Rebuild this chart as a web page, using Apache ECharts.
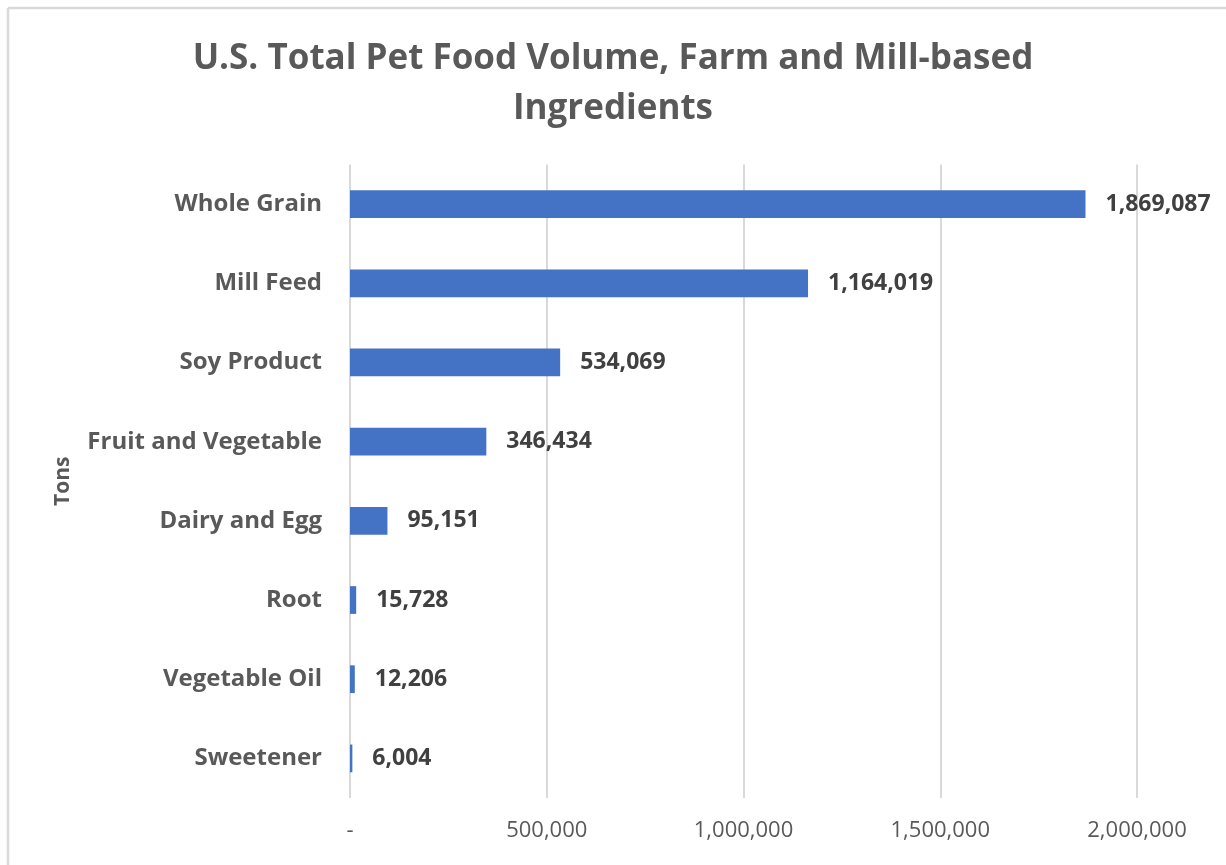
<!DOCTYPE html>
<html>
<head>
<meta charset="utf-8">
<script src="https://cdn.jsdelivr.net/npm/echarts@6/dist/echarts.min.js"></script>
<style>
  html, body { margin: 0; padding: 0; background: #fff; }
  #chart { width: 1226px; height: 865px; }
</style>
</head>
<body>
<div id="chart"></div>
<script>
// Ingredient categories, top to bottom
const categories = ['Whole Grain', 'Mill Feed', 'Soy Product', 'Fruit and Vegetable',
  'Dairy and Egg', 'Root', 'Vegetable Oil', 'Sweetener'];
// Volume in tons
const tons = [1869087, 1164019, 534069, 346434, 95151, 15728, 12206, 6004];
// Value axis ticks
const axisMin = 0;
const axisMax = 2000000;
const axisStep = 500000;

const fmt = v => v === 0 ? '-' : v.toLocaleString('en-US');
const font = '"Open Sans", "DejaVu Sans", sans-serif';

const chart = echarts.init(document.getElementById('chart'), null, { renderer: 'canvas' });
chart.setOption({
  backgroundColor: '#ffffff',
  animation: false,
  title: {
    text: 'U.S. Total Pet Food Volume, Farm and Mill-based\nIngredients',
    left: 'center',
    top: 29,
    textStyle: {
      fontFamily: font, fontSize: 35, fontWeight: 'bold', color: '#595959', lineHeight: 50
    }
  },
  graphic: [
    { type: 'line', shape: { x1: 8, y1: 8, x2: 1226, y2: 8 }, style: { stroke: '#d9d9d9', lineWidth: 2.5 } },
    { type: 'line', shape: { x1: 8, y1: 8, x2: 8, y2: 865 }, style: { stroke: '#d9d9d9', lineWidth: 2.5 } }
  ],
  grid: { left: 350, right: 89, top: 164.5, bottom: 67, containLabel: false },
  xAxis: {
    type: 'value',
    min: axisMin, max: axisMax, interval: axisStep,
    axisLine: { show: false },
    axisTick: { show: false },
    splitLine: { show: true, lineStyle: { color: '#d9d9d9', width: 2 } },
    axisLabel: {
      formatter: fmt, margin: 22,
      fontFamily: font, fontSize: 22, color: '#595959'
    }
  },
  yAxis: {
    type: 'category',
    data: categories,
    inverse: true,
    name: 'Tons',
    nameLocation: 'middle',
    nameGap: 276,
    nameRotate: 90,
    nameTextStyle: { fontFamily: font, fontSize: 21, fontWeight: 'bold', color: '#595959' },
    axisLine: { show: false },
    axisTick: { show: false },
    splitLine: { show: false },
    axisLabel: {
      margin: 28,
      fontFamily: font, fontSize: 24, fontWeight: 'bold', color: '#595959'
    }
  },
  series: [{
    type: 'bar',
    data: tons,
    barWidth: '35%',
    itemStyle: { color: '#4472c4' },
    label: {
      show: true, position: 'right', distance: 20,
      formatter: p => fmt(p.value),
      fontFamily: font, fontSize: 23, fontWeight: 'bold', color: '#404040'
    }
  }]
});
</script>
</body>
</html>
